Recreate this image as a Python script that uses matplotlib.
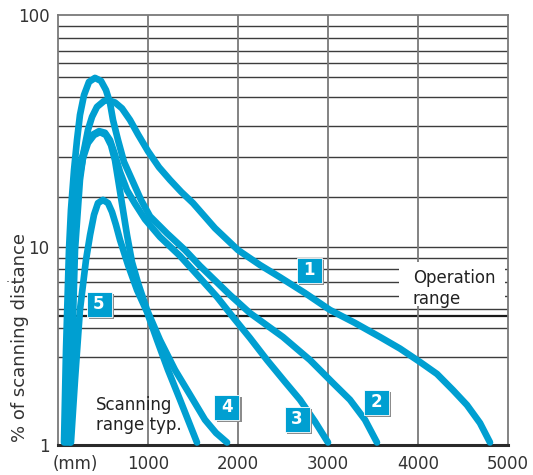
import numpy as np
import matplotlib.pyplot as plt
from matplotlib.patches import Rectangle

blue = '#009fd1'

# distance (mm) vs % of scanning distance
c1_x = [133, 156, 189, 244, 289, 333, 378, 433, 511, 556, 633, 711, 800, 889, 1000, 1122, 1244,
        1370, 1500, 1744, 2000, 2244, 2467, 2744, 3022, 3300, 3578, 3800, 4022, 4211, 4389,
        4544, 4689, 4800]
c1_y = [1.03, 3.0, 9.6, 19.4, 26.1, 31.9, 36.3, 40.1, 42.5, 42.9, 41.9, 39.5, 35.2, 30.5, 25.8, 22.0, 19.4,
        17.2, 15.4, 12.0, 9.6, 8.07, 7.0, 5.83, 4.79, 4.12, 3.5, 3.06, 2.62, 2.28, 1.89,
        1.59, 1.29, 1.03]

c2_x = [67, 89, 122, 144, 178, 211, 244, 289, 344, 411, 478, 533, 578, 611, 667, 733, 833, 922,
        1022, 1211, 1411, 1578, 1911, 2133, 2500, 2800, 3056, 3244, 3411, 3544]
c2_y = [1.03, 3.0, 9.6, 14.4, 21.4, 28.8, 37.0, 45.1, 51.4, 53.5, 51.9, 47.4, 41.7, 35.2, 28.8, 23.2, 19.0, 15.9,
        13.5, 11.4, 9.6, 7.98, 5.7, 4.62, 3.5, 2.68, 2.05, 1.69, 1.34, 1.03]

c3_x = [89, 111, 144, 178, 211, 256, 311, 378, 456, 522, 578, 633, 689, 767, 856, 967, 1133,
        1356, 1578, 1767, 1944, 2133, 2322, 2522, 2689, 2856, 3000]
c3_y = [1.03, 3.0, 9.6, 15.1, 19.4, 23.6, 27.4, 30.3, 31.5, 31.0, 28.8, 24.9, 21.0, 17.5, 15.3, 13.1, 11.0,
        8.96, 6.94, 5.57, 4.41, 3.46, 2.68, 2.08, 1.69, 1.31, 1.03]

c4_x = [111, 133, 167, 200, 233, 278, 333, 400, 467, 533, 589, 633, 678, 722, 767, 822, 889, 989,
        1133, 1300, 1467, 1633, 1756, 1878]
c4_y = [1.03, 3.0, 9.6, 15.1, 19.4, 24.1, 28.0, 30.3, 31.2, 30.3, 27.4, 23.6, 18.4, 14.4, 11.2, 8.35, 6.55, 4.79,
        3.38, 2.39, 1.79, 1.34, 1.15, 1.03]

c5_x = [144, 189, 244, 311, 356, 400, 444, 500, 556, 600, 644, 689, 778, 878, 989, 1100, 1222,
        1356, 1444, 1544]
c5_y = [1.03, 2.13, 4.79, 8.55, 11.2, 13.7, 15.4, 15.9, 15.4, 14.1, 12.4, 10.67, 8.07, 6.04, 4.68, 3.38, 2.39,
        1.69, 1.34, 1.03]

hgrid = [2.79, 3.90, 4.83, 5.65, 6.65, 7.68, 8.78, 10,
         16.4, 24.3, 33.2, 44.1, 53.8, 61.8, 70.1, 79.3, 89.8]
op_line = 4.48
xticks = [1000, 2000, 3000, 4000, 5000]
yticks = [1, 10, 100]


# the printed scale is not quite log: lower decade is shorter than the upper one
def fwd(v):
    lv = np.log10(np.clip(v, 1e-3, None))
    return np.where(lv <= 1, lv * 198.5, 198.5 + (lv - 1) * 231.5)


def inv(p):
    return np.where(p <= 198.5, 10 ** (p / 198.5), 10 ** (1 + (p - 198.5) / 231.5))


fig = plt.figure(figsize=(5.33, 4.75), dpi=100)
ax = fig.add_axes([58 / 533, 30 / 475, 450 / 533, 430 / 475])
ax.set_yscale('function', functions=(fwd, inv))
ax.set_xlim(0, 5000)
ax.set_ylim(1, 100)

for v in hgrid:
    ax.axhline(v, color='#3c3c3c', lw=1.0, zorder=1)
ax.axhline(op_line, color='#1a1a1a', lw=1.6, zorder=1)
for v in xticks[:-1]:
    ax.axvline(v, color='#7a7a7a', lw=1.3, zorder=1)

# white patch behind "Operation range"
ax.add_patch(Rectangle(((399 - 58) / 450, (445 - 306) / 430), 106 / 450, 44 / 430,
                       transform=ax.transAxes, facecolor='white', edgecolor='none', zorder=2))
ax.text((413 - 58) / 450, (445 - 288.5) / 430, 'Operation\nrange', transform=ax.transAxes,
        fontsize=12, color='#222222', va='center', ha='left', zorder=3, linespacing=1.25)
ax.text((96 - 58) / 450, (445 - 415) / 430, 'Scanning\nrange typ.', transform=ax.transAxes,
        fontsize=12, color='#222222', va='center', ha='left', zorder=3, linespacing=1.2)

for xs, ys in [(c1_x, c1_y), (c2_x, c2_y), (c3_x, c3_y), (c4_x, c4_y), (c5_x, c5_y)]:
    ax.plot(xs, ys, color=blue, lw=4.8, solid_capstyle='round', solid_joinstyle='round',
            zorder=4, clip_on=False)

# numbered tags
tags = ['1', '2', '3', '4', '5']
tag_px = [(309, 270), (376, 402), (297, 419), (227, 407), (99, 304)]
bw, bh = 25 / 450, 25 / 430
for t, (px, py) in zip(tags, tag_px):
    cx, cy = (px - 58) / 450, (445 - py) / 430
    ax.add_patch(Rectangle((cx - bw / 2 + 2.5 / 450, cy - bh / 2 - 2.5 / 430), bw, bh,
                           transform=ax.transAxes, facecolor='#8c8c8c', edgecolor='none', zorder=5))
    ax.add_patch(Rectangle((cx - bw / 2, cy - bh / 2), bw, bh, transform=ax.transAxes,
                           facecolor=blue, edgecolor='white', lw=0.6, zorder=6))
    ax.text(cx, cy, t, transform=ax.transAxes, color='white', fontsize=12, fontweight='bold',
            ha='center', va='center', zorder=7)

ax.set_xticks(xticks)
ax.set_xticklabels([str(v) for v in xticks])
ax.set_yticks(yticks)
ax.set_yticklabels([str(v) for v in yticks])
ax.yaxis.set_minor_locator(plt.NullLocator())
ax.tick_params(length=0, labelsize=12, colors='#333333')
ax.tick_params(axis='x', pad=7)
ax.tick_params(axis='y', pad=6)
ax.text((75 - 58) / 450, -10 / 430, '(mm)', transform=ax.transAxes, fontsize=12,
        color='#333333', ha='center', va='top')

for s in ['left', 'top', 'right']:
    ax.spines[s].set_color('#7a7a7a')
    ax.spines[s].set_linewidth(1.3)
ax.spines['bottom'].set_color('#2a2a2a')
ax.spines['bottom'].set_linewidth(2.2)

fig.text(20 / 533, 1 - 337 / 475, '% of scanning distance', rotation=90, fontsize=13,
         color='#333333', ha='center', va='center')
fig.text(8 / 533, 1 - 285 / 475, '.', fontsize=9, color='#333333', ha='center', va='bottom')

fig.savefig('out.png', dpi=100)
